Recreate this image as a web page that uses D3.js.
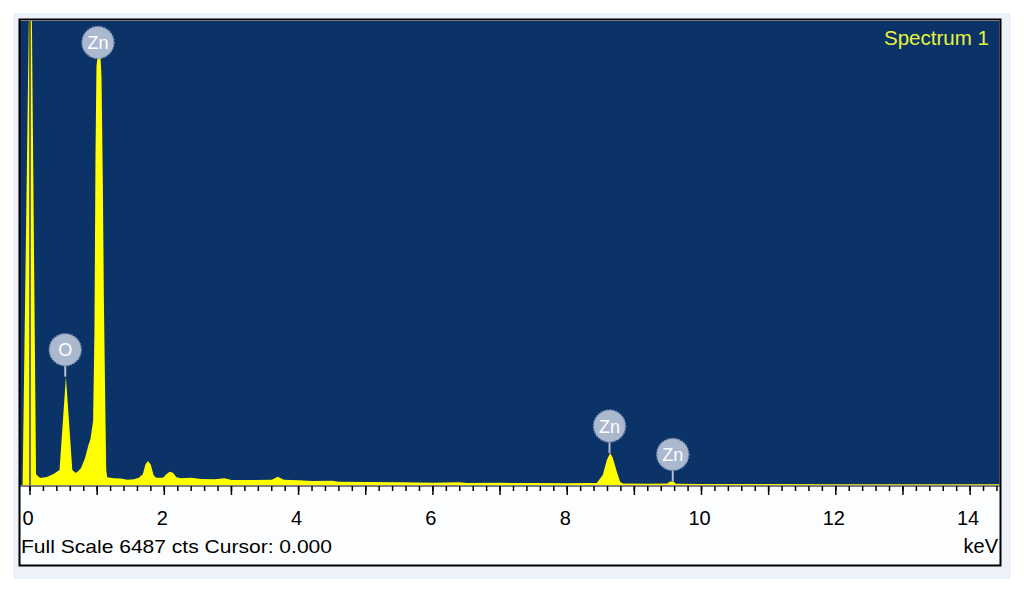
<!DOCTYPE html>
<html>
<head>
<meta charset="utf-8">
<script src="https://cdn.jsdelivr.net/npm/d3@7"></script>
<style>
  body { margin: 0; background: #ffffff; }
  svg { display: block; font-family: "Liberation Sans", Arial, sans-serif; }
</style>
</head>
<body>
<div id="chart"></div>
<script>
// Spectrum: [energy keV, counts]
const spectrum = [
  [-0.15, 0], [-0.11, 0], [0.01, 8400], [0.09, 150], [0.15, 98], [0.25, 112],
  [0.35, 154], [0.44, 210], [0.535, 1515], [0.63, 210], [0.68, 168], [0.72, 196],
  [0.76, 238], [0.82, 378], [0.87, 560], [0.90, 640], [0.94, 900], [0.96, 2170],
  [0.975, 4600], [0.99, 5850], [1.005, 5985], [1.05, 5985], [1.065, 5700], [1.085, 4200],
  [1.10, 2600], [1.12, 1190], [1.135, 210], [1.15, 110], [1.25, 95], [1.35, 90],
  [1.45, 75], [1.55, 80], [1.62, 100], [1.68, 150], [1.72, 290], [1.76, 335],
  [1.80, 280], [1.84, 140], [1.88, 100], [1.98, 100], [2.03, 150], [2.08, 185],
  [2.13, 170], [2.18, 110], [2.25, 95], [2.40, 100], [2.55, 85], [2.75, 80],
  [2.90, 95], [3.0, 70], [3.3, 70], [3.6, 75], [3.69, 116], [3.78, 72],
  [4.0, 68], [4.2, 55], [4.5, 58], [4.6, 45], [5.0, 42], [5.5, 40],
  [6.0, 32], [6.4, 38], [6.5, 28], [7.0, 30], [7.5, 28], [8.0, 26],
  [8.3, 28], [8.44, 28], [8.53, 140], [8.59, 350], [8.64, 447], [8.68, 377],
  [8.74, 182], [8.79, 42], [8.83, 22], [9.2, 18], [9.49, 20], [9.53, 50],
  [9.58, 50], [9.62, 18], [10, 15], [12, 12], [14.5, 10]
];

// Peak labels
const peakElements = ['O', 'Zn', 'Zn', 'Zn'];
const peakEnergies = [0.525, 1.012, 8.630, 9.572];

// Axis ticks
const majorTicks = d3.range(0, 15, 1);
const labelTicks = [0, 2, 4, 6, 8, 10, 12, 14];
const minorTicks = d3.range(0, 14.5, 0.2);

const fullScale = 6487;
const cursorKeV = 0;
const spectrumName = 'Spectrum 1';
const unitLabel = 'keV';

// Layout
const W = 1024, H = 592;
const plot = { left: 20, top: 21, right: 999.5, bottom: 485 };

const svg = d3.select('#chart').append('svg')
    .attr('width', W)
    .attr('height', H);

// outer light panel
svg.append('rect')
    .attr('x', 13).attr('y', 13)
    .attr('width', 998).attr('height', 566)
    .attr('fill', '#edf1fa');

// white frame interior
svg.append('rect')
    .attr('x', 19.5).attr('y', 19.5)
    .attr('width', 981).attr('height', 546)
    .attr('fill', '#fcfdfe');

// plot background
svg.append('rect')
    .attr('x', plot.left).attr('y', plot.top)
    .attr('width', plot.right - plot.left).attr('height', plot.bottom - plot.top)
    .attr('fill', '#0b3367');

// Scales
const x = d3.scaleLinear().domain([0, 14]).range([30, 970.1]);
const y = d3.scaleLinear().domain([0, fullScale]).range([plot.bottom, plot.top]);

svg.append('clipPath').attr('id', 'plotClip')
  .append('rect')
    .attr('x', plot.left).attr('y', plot.top)
    .attr('width', plot.right - plot.left).attr('height', plot.bottom - plot.top);

const area = d3.area()
    .x(d => x(d[0]))
    .y0(plot.bottom)
    .y1(d => y(d[1]));

const g = svg.append('g').attr('clip-path', 'url(#plotClip)');

g.append('path')
    .datum(spectrum)
    .attr('fill', '#ffff00')
    .attr('d', area);

// cursor line: light over blue, dark over the spectrum
svg.append('clipPath').attr('id', 'areaClip')
  .append('path').datum(spectrum).attr('d', area);

g.append('line')
    .attr('x1', x(cursorKeV)).attr('x2', x(cursorKeV))
    .attr('y1', plot.top).attr('y2', plot.bottom)
    .attr('stroke', '#c9d9a6').attr('stroke-width', 1);

g.append('g').attr('clip-path', 'url(#areaClip)')
  .append('line')
    .attr('x1', x(cursorKeV)).attr('x2', x(cursorKeV))
    .attr('y1', plot.top).attr('y2', plot.bottom)
    .attr('stroke', '#1a1a10').attr('stroke-width', 1.2);

// Peak labels
function peakTop(e) {
  const near = spectrum.filter(d => Math.abs(d[0] - e) <= 0.06);
  return d3.max(near, d => d[1]);
}

const labels = peakElements.map((el, i) => {
  const py = y(peakTop(peakEnergies[i]));
  return { el, px: x(peakEnergies[i]), py, cy: Math.max(42.5, py - 27) };
});

const lg = svg.append('g').selectAll('g')
    .data(labels)
    .join('g');

lg.append('line')
    .attr('x1', d => d.px).attr('x2', d => d.px)
    .attr('y1', d => d.cy + 14).attr('y2', d => d.py)
    .attr('stroke', '#b4c0d4').attr('stroke-width', 2);

lg.append('circle')
    .attr('cx', d => d.px).attr('cy', d => d.cy)
    .attr('r', 16)
    .attr('fill', '#abb9cf')
    .attr('stroke', '#7e93b6')
    .attr('stroke-width', 1.5)
    .attr('stroke-dasharray', '1.5,1.5');

lg.append('text')
    .attr('x', d => d.px).attr('y', d => d.cy + 6.5)
    .attr('text-anchor', 'middle')
    .attr('font-size', 18)
    .attr('fill', '#ffffff')
    .text(d => d.el);

// Axis
const axis = svg.append('g');

axis.append('line')
    .attr('x1', plot.left).attr('x2', plot.right)
    .attr('y1', 486).attr('y2', 486)
    .attr('stroke', '#000').attr('stroke-width', 1);

axis.selectAll('.minor')
    .data(minorTicks)
    .join('line')
    .attr('class', 'minor')
    .attr('x1', d => x(d)).attr('x2', d => x(d))
    .attr('y1', 486).attr('y2', 491)
    .attr('stroke', '#000').attr('stroke-width', 1.5);

axis.selectAll('.major')
    .data(majorTicks)
    .join('line')
    .attr('class', 'major')
    .attr('x1', d => x(d)).attr('x2', d => x(d))
    .attr('y1', 486).attr('y2', 495)
    .attr('stroke', '#000').attr('stroke-width', 1.5);

axis.selectAll('.tlabel')
    .data(labelTicks)
    .join('text')
    .attr('class', 'tlabel')
    .attr('x', d => x(d) - 2)
    .attr('y', 525)
    .attr('text-anchor', 'middle')
    .attr('font-size', 20)
    .attr('fill', '#000')
    .text(d => d);

// Footer texts
svg.append('text')
    .attr('x', 21).attr('y', 553)
    .attr('font-size', 19)
    .attr('textLength', 311)
    .attr('lengthAdjust', 'spacingAndGlyphs')
    .text(`Full Scale ${fullScale} cts Cursor: ${cursorKeV.toFixed(3)}`);

svg.append('text')
    .attr('x', 998).attr('y', 553)
    .attr('text-anchor', 'end')
    .attr('font-size', 20)
    .text(unitLabel);

svg.append('text')
    .attr('x', 989).attr('y', 45)
    .attr('text-anchor', 'end')
    .attr('font-size', 20)
    .attr('textLength', 105)
    .attr('lengthAdjust', 'spacingAndGlyphs')
    .attr('fill', '#e8f43c')
    .text(spectrumName);

// frame border
svg.append('rect')
    .attr('x', 19.5).attr('y', 19.5)
    .attr('width', 981).attr('height', 546)
    .attr('fill', 'none')
    .attr('stroke', '#000').attr('stroke-width', 2);
</script>
</body>
</html>
